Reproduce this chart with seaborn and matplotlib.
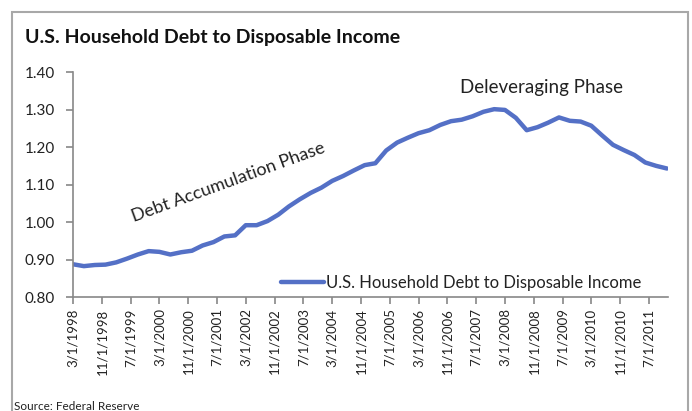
import pandas as pd
import numpy as np
import matplotlib
matplotlib.use('Agg')
import matplotlib.pyplot as plt
import seaborn as sns
from matplotlib.patches import Rectangle

# Quarterly ratio of household debt to disposable income, 3/1998 - 12/2011
quarters = pd.date_range('1998-03-01', periods=56, freq='3MS')
debt_ratio = [0.888, 0.883, 0.886, 0.887, 0.893, 0.903, 0.914, 0.923,
              0.921, 0.914, 0.920, 0.924, 0.938, 0.947, 0.962, 0.965,
              0.992, 0.992, 1.003, 1.020, 1.042, 1.061, 1.078, 1.092,
              1.110, 1.123, 1.138, 1.152, 1.157, 1.191, 1.212, 1.225,
              1.237, 1.245, 1.259, 1.269, 1.273, 1.282, 1.294, 1.301,
              1.299, 1.278, 1.245, 1.253, 1.265, 1.279, 1.270, 1.268,
              1.257, 1.231, 1.206, 1.192, 1.179, 1.159, 1.150, 1.143]
series_name = 'U.S. Household Debt to Disposable Income'

tick_dates = pd.date_range('1998-03-01', '2011-07-01', freq='8MS')
tick_labels = [f"{d.month}/{d.day}/{d.year}" for d in tick_dates]
y_ticks = [0.80, 0.90, 1.00, 1.10, 1.20, 1.30, 1.40]

df = pd.DataFrame({'Date': quarters, 'Ratio': debt_ratio})

sns.set_theme(style='white')
plt.rcParams['font.family'] = ['Lato', 'DejaVu Sans']

fig = plt.figure(figsize=(6.92, 4.11), dpi=100)
ax = fig.add_axes([73 / 692, 1 - 297.3 / 411, (668 - 73) / 692, (297.3 - 72) / 411])

sns.lineplot(data=df, x='Date', y='Ratio', ax=ax, color='#5470C6', linewidth=3.2,
             label=series_name)

ax.set_ylim(0.8, 1.4)
ax.set_yticks(y_ticks)
ax.set_yticklabels([f"{v:.2f}" for v in y_ticks], fontsize=11, color='#222222')
ax.set_xlim(pd.Timestamp('1998-03-01'), pd.Timestamp('2011-12-10'))
ax.set_xticks(tick_dates)
ax.set_xticklabels(tick_labels, rotation=90, fontsize=9.5, color='#222222')
ax.set_xlabel('')
ax.set_ylabel('')

for side in ['top', 'right']:
    ax.spines[side].set_visible(False)
for side in ['left', 'bottom']:
    ax.spines[side].set_color('#888888')
    ax.spines[side].set_linewidth(1.2)
ax.tick_params(axis='both', direction='out', length=5, width=1.2, color='#888888')
ax.tick_params(axis='y', pad=8)
ax.tick_params(axis='x', pad=3)
ax.tick_params(axis='both', which='both', bottom=True, left=True)

leg = ax.legend(loc='lower right', bbox_to_anchor=(0.975, -0.025), frameon=False,
                fontsize=12, handlelength=2.6, handletextpad=0.1, borderpad=0.2)
for t in leg.get_texts():
    t.set_color('#222222')

ax.text(pd.Timestamp('2001-10-01'), 1.107, 'Debt Accumulation Phase', fontsize=13,
        rotation=20, ha='center', va='center', color='#222222')
ax.text(pd.Timestamp('2009-01-01'), 1.36, 'Deleveraging Phase', fontsize=13.5,
        ha='center', va='center', color='#222222')

fig.text(25 / 692, 1 - 38 / 411, 'U.S. Household Debt to Disposable Income',
         fontsize=14, fontweight='bold', ha='left', va='center', color='#111111')
fig.text(14 / 692, 1 - 406 / 411, 'Source: Federal Reserve', fontsize=8.5,
         ha='left', va='center', color='#222222')

fig.patches.append(Rectangle((12 / 692, -0.05), (688 - 12) / 692, 1.05 - 12 / 411,
                             transform=fig.transFigure, fill=False,
                             edgecolor='#a8a8a8', linewidth=1.5))

fig.savefig('out.png', dpi=100)
